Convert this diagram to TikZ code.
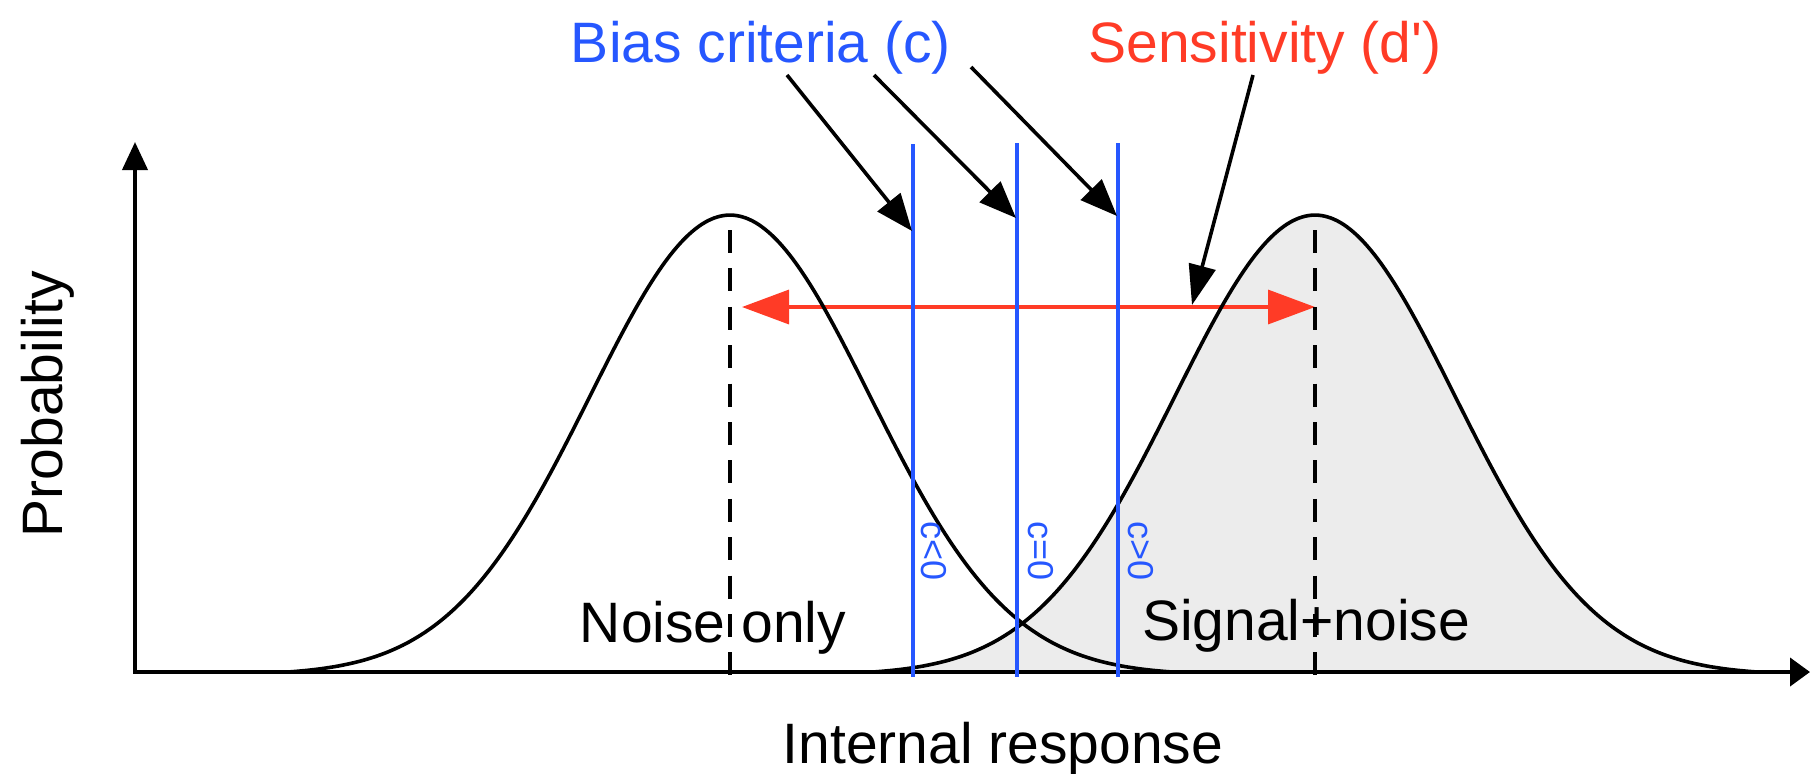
\documentclass[tikz,border=0pt]{standalone}
\usepackage{fontspec}
\setmainfont{Liberation Sans}
\usetikzlibrary{arrows.meta}
\definecolor{critblue}{RGB}{38,87,255}
\definecolor{sensred}{RGB}{255,59,38}
\definecolor{fillgray}{RGB}{236,236,236}
\newcommand\straightq{\XeTeXglyph\XeTeXcharglyph"0027\relax}
\begin{document}
\begin{tikzpicture}[x=0.5pt,y=-0.5pt,
  lbl/.style={font=\fontsize{28.5}{32}\selectfont, inner sep=0pt, anchor=base},
  clbl/.style={font=\fontsize{18}{20}\selectfont, text=critblue, inner sep=0pt, anchor=base, rotate=-90},
  curve/.style={line width=1.8pt, black},
  crit/.style={line width=1.6pt, critblue},
  axisline/.style={line width=2pt, black, line join=miter},
  meanline/.style={line width=1.7pt, black, dash pattern=on 11.5pt off 7.7pt},
  pointer/.style={line width=1.8pt, black, -{Triangle[length=18.5pt,width=14.5pt]}},
  spointer/.style={line width=1.8pt, black, -{Triangle[length=20pt,width=13.5pt]}},
  sensarrow/.style={line width=1.7pt, sensred, {Triangle[length=23.5pt,width=17pt]}-{Triangle[length=23.5pt,width=17pt]}}
]
\useasboundingbox (0,0) rectangle (1810,773);

% coordinates
\coordinate (ytip) at (135,142);
\coordinate (origin) at (135,672);
\coordinate (xtip) at (1810,672);
\coordinate (npk) at (730,230);
\coordinate (nbase) at (730,676);
\coordinate (spk) at (1315,230);
\coordinate (sbase) at (1315,676);
\coordinate (dl) at (742,307);
\coordinate (dr) at (1315,307);
\coordinate (c1t) at (913,144);
\coordinate (c1b) at (913,677);
\coordinate (c2t) at (1017,143);
\coordinate (c2b) at (1017,677);
\coordinate (c3t) at (1118,143);
\coordinate (c3b) at (1118,677);
\coordinate (b1s) at (787,75);
\coordinate (b1e) at (912,231);
\coordinate (b2s) at (874,75);
\coordinate (b2e) at (1016,218);
\coordinate (b3s) at (971,67);
\coordinate (b3e) at (1117,216);
\coordinate (ss) at (1253,75);
\coordinate (se) at (1192,305);

% signal area
\fill[fillgray] plot[domain=873:1757, samples=140, smooth]
  (\x, {672 - 460*(exp(-0.5*((\x-1315)/140)^2) - 0.0068)}) -- cycle;

% sensitivity arrow
\draw[sensarrow] (dl) -- (dr);

% curves
\draw[curve] plot[domain=288:1172, samples=140, smooth]
  (\x, {672 - 460*(exp(-0.5*((\x-730)/140)^2) - 0.0068)});
\draw[curve] plot[domain=873:1757, samples=140, smooth]
  (\x, {672 - 460*(exp(-0.5*((\x-1315)/140)^2) - 0.0068)});

% mean lines
\draw[meanline] (npk) -- (nbase);
\draw[meanline] (spk) -- (sbase);

% axes
\draw[axisline, {Triangle[length=14pt,width=12.5pt]}-{Triangle[length=10pt,width=14pt]}] (ytip) -- (origin) -- (xtip);

% criteria
\draw[crit] (c1t) -- (c1b);
\draw[crit] (c2t) -- (c2b);
\draw[crit] (c3t) -- (c3b);

% pointers
\draw[pointer] (b1s) -- (b1e);
\draw[pointer] (b2s) -- (b2e);
\draw[pointer] (b3s) -- (b3e);
\draw[spointer] (ss) -- (se);

% labels
\node[lbl, text=critblue] (bias) at (761,62) {Bias criteria (c)};
\node[lbl, text=sensred] (sens) at (1265,62) {Sensitivity (d\straightq)};
\node[lbl, rotate=90] (prob) at (62,404) {Probability};
\node[lbl] (ir) at (1003,763) {Internal response};
\node[lbl] (noise) at (713,642) {Noise only};
\node[lbl] (sig) at (1306,640) {Signal+noise};
\node[clbl] (cneg) at (921,551) {c<0};
\node[clbl] (czero) at (1028,551) {c=0};
\node[clbl] (cpos) at (1128,551) {c>0};
\end{tikzpicture}
\end{document}
